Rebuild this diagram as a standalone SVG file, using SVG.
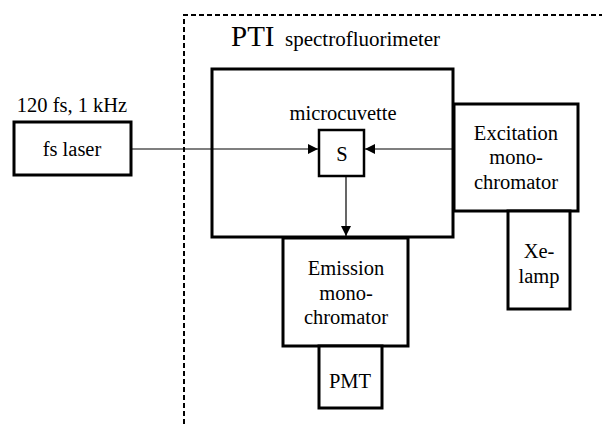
<svg xmlns="http://www.w3.org/2000/svg" width="602" height="424" viewBox="0 0 602 424">
  <defs>
    <marker id="arrow" viewBox="0 0 10 10" refX="10" refY="5" markerWidth="10" markerHeight="10" markerUnits="userSpaceOnUse" orient="auto">
      <path d="M0,0 L10,5 L0,10 Z" fill="#000"/>
    </marker>
    <style>
      .box { fill: #fff; stroke: #000; stroke-width: 3; }
      .thin { fill: #fff; stroke: #000; stroke-width: 2.5; }
      .wire { stroke: #000; stroke-width: 1.2; fill: none; }
      .frame { stroke: #000; stroke-width: 2; fill: none; stroke-dasharray: 5 3; }
    </style>
  </defs>

  <!-- instrument enclosure -->
  <path class="frame" d="M184,424 L184,15 L602,15"/>
  <text x="231" y="46" font-family="Liberation Serif, serif" font-size="29">PTI<tspan x="285" font-size="21">spectrofluorimeter</tspan></text>

  <g id="main-chamber">
    <rect class="box" x="212" y="69" width="241" height="168"/>
  </g>

  <g font-family="Liberation Serif, serif" font-size="20.5" text-anchor="middle" fill="#000">
  <g id="fs-laser">
    <text x="72" y="112">120 fs, 1 kHz</text>
    <rect class="box" x="14" y="122" width="117" height="53"/>
    <text x="72" y="156">fs laser</text>
  </g>

  <g id="excitation">
    <rect class="box" x="454" y="104" width="124" height="107"/>
    <text x="516" y="140">Excitation</text>
    <text x="516" y="164">mono-</text>
    <text x="516" y="189">chromator</text>
  </g>

  <g id="xe-lamp">
    <rect class="box" x="508" y="211" width="62" height="98"/>
    <text x="539" y="258">Xe-</text>
    <text x="539" y="283">lamp</text>
  </g>

  <g id="emission">
    <rect class="box" x="283" y="238" width="125" height="108"/>
    <text x="346" y="275">Emission</text>
    <text x="346" y="300">mono-</text>
    <text x="346" y="324">chromator</text>
  </g>

  <g id="pmt">
    <rect class="box" x="319" y="346" width="63" height="62"/>
    <text x="350" y="388">PMT</text>
  </g>

  <g id="sample">
    <text x="343" y="120">microcuvette</text>
    <rect class="thin" x="319" y="130" width="45" height="46"/>
    <text x="342" y="161">S</text>
  </g>
  </g>

  <g id="connectors">
    <line class="wire" x1="131" y1="149" x2="318" y2="149" marker-end="url(#arrow)"/>
    <line class="wire" x1="454" y1="149" x2="365" y2="149" marker-end="url(#arrow)"/>
    <line class="wire" x1="346" y1="176" x2="346" y2="236" marker-end="url(#arrow)"/>
  </g>
</svg>
